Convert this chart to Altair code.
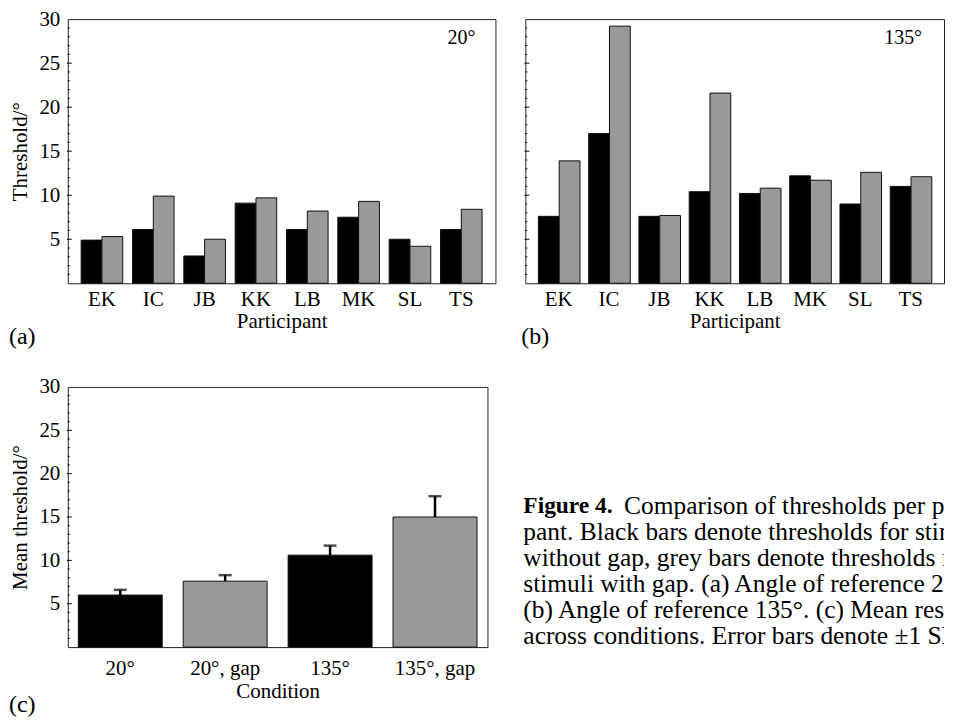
import altair as alt
import pandas as pd

FONT = "Liberation Serif"

participants = ["EK", "IC", "JB", "KK", "LB", "MK", "SL", "TS"]
a_no_gap = [4.9, 6.1, 3.1, 9.1, 6.1, 7.5, 5.0, 6.1]
a_gap = [5.3, 9.9, 5.0, 9.7, 8.2, 9.3, 4.2, 8.4]
b_no_gap = [7.6, 17.0, 7.6, 10.4, 10.2, 12.2, 9.0, 11.0]
b_gap = [13.9, 29.2, 7.7, 21.6, 10.8, 11.7, 12.6, 12.1]

conditions = ["20°", "20°, gap", "135°", "135°, gap"]
cond_stimulus = ["no gap", "gap", "no gap", "gap"]
mean_thr = [6.0, 7.6, 10.6, 15.0]
sd_thr = [0.6, 0.7, 1.1, 2.4]

y_labels = [5, 10, 15, 20, 25, 30]
minor_ticks = [v for v in range(1, 30) if v % 5 != 0]
major_ticks = [5, 10, 15, 20, 25]

caption_bold = "Figure 4."
caption_first = "Comparison of thresholds per partici-"
caption_lines = [
    "pant. Black bars denote thresholds for stimuli",
    "without gap, grey bars denote thresholds for",
    "stimuli with gap. (a) Angle of reference 20°.",
    "(b) Angle of reference 135°. (c) Mean results",
    "across conditions. Error bars denote ±1 SD.",
]

stim_scale = alt.Scale(domain=["no gap", "gap"], range=["#000000", "#999999"])


def tick_layers(field, yscale, yaxis):
    minor = alt.Chart(pd.DataFrame({field: minor_ticks})).mark_rule(
        color="black", strokeWidth=1
    ).encode(
        y=alt.Y(f"{field}:Q", scale=yscale, axis=yaxis),
        x=alt.value(0), x2=alt.value(2),
    )
    major = alt.Chart(pd.DataFrame({field: major_ticks})).mark_rule(
        color="black", strokeWidth=1
    ).encode(
        y=alt.Y(f"{field}:Q", scale=yscale, axis=yaxis),
        x=alt.value(-1), x2=alt.value(4),
    )
    return minor, major


def participant_panel(no_gap, gap, angle_label, letter, width, height, show_y, letter_x, angle_dx):
    df = pd.DataFrame({
        "Participant": participants * 2,
        "Stimulus": ["no gap"] * len(participants) + ["gap"] * len(participants),
        "Threshold": no_gap + gap,
    })
    yscale = alt.Scale(domain=[0, 30], nice=False, zero=True)
    if show_y:
        yaxis = alt.Axis(title="Threshold/°", values=y_labels, ticks=False, tickSize=0,
                         domain=False, grid=False, labelPadding=8, titlePadding=8,
                         labelFont=FONT, titleFont=FONT, titleFontWeight="normal")
    else:
        yaxis = None
    bars = alt.Chart(df).mark_bar(stroke="#111111", strokeWidth=1).encode(
        x=alt.X("Participant:N", sort=participants,
                scale=alt.Scale(paddingInner=0.19, paddingOuter=0.26),
                axis=alt.Axis(title="Participant", labelAngle=0, ticks=False, tickSize=0,
                              domain=False, labelPadding=5, titlePadding=1,
                              labelFont=FONT, titleFont=FONT, titleFontWeight="normal")),
        xOffset=alt.XOffset("Stimulus:N", sort=["no gap", "gap"],
                            scale=alt.Scale(paddingInner=0, paddingOuter=0)),
        y=alt.Y("Threshold:Q", scale=yscale, axis=yaxis),
        color=alt.Color("Stimulus:N", scale=stim_scale, legend=None),
    )
    minor, major = tick_layers("Threshold", yscale, yaxis)
    angle = alt.Chart(pd.DataFrame({"t": [angle_label]})).mark_text(
        font=FONT, fontSize=20, align="right", baseline="middle", color="black"
    ).encode(text="t:N", x=alt.value(width - angle_dx), y=alt.value(19))
    letter_txt = alt.Chart(pd.DataFrame({"t": [letter]})).mark_text(
        font=FONT, fontSize=24, align="left", baseline="middle", color="black"
    ).encode(text="t:N", x=alt.value(letter_x), y=alt.value(height + 54))
    return alt.layer(bars, minor, major, angle, letter_txt).properties(width=width, height=height)


panel_a = participant_panel(a_no_gap, a_gap, "20°", "(a)", 429, 265, True, -59, 20)
panel_b = participant_panel(b_no_gap, b_gap, "135°", "(b)", 420, 265, False, -4, 22)

# Panel (c)
dfc = pd.DataFrame({
    "Condition": conditions,
    "Stimulus": cond_stimulus,
    "Mean": mean_thr,
    "SD": sd_thr,
})
dfc["Top"] = dfc["Mean"] + dfc["SD"]
c_h = 261
c_w = 421
yscale_c = alt.Scale(domain=[0, 30], nice=False, zero=True)
yaxis_c = alt.Axis(title="Mean threshold/°", values=y_labels, ticks=False, tickSize=0,
                   domain=False, grid=False, labelPadding=8, titlePadding=8,
                   labelFont=FONT, titleFont=FONT, titleFontWeight="normal")
xenc_c = alt.X("Condition:N", sort=conditions,
               scale=alt.Scale(paddingInner=0.2, paddingOuter=0.1),
               axis=alt.Axis(title="Condition", labelAngle=0, ticks=False, tickSize=0,
                             domain=False, labelPadding=10, titlePadding=3,
                             labelFont=FONT, titleFont=FONT, titleFontWeight="normal"))
bars_c = alt.Chart(dfc).mark_bar(stroke="#111111", strokeWidth=1).encode(
    x=xenc_c,
    y=alt.Y("Mean:Q", scale=yscale_c, axis=yaxis_c),
    color=alt.Color("Stimulus:N", scale=stim_scale, legend=None),
)
err_c = alt.Chart(dfc).mark_rule(color="black", strokeWidth=2.5).encode(
    x=xenc_c,
    y=alt.Y("Mean:Q", scale=yscale_c, axis=yaxis_c),
    y2="Top:Q",
)
cap_c = alt.Chart(dfc).mark_tick(color="black", size=13, thickness=2.5).encode(
    x=xenc_c,
    y=alt.Y("Top:Q", scale=yscale_c, axis=yaxis_c),
)
minor_c, major_c = tick_layers("Mean", yscale_c, yaxis_c)
letter_c = alt.Chart(pd.DataFrame({"t": ["(c)"]})).mark_text(
    font=FONT, fontSize=24, align="left", baseline="middle", color="black"
).encode(text="t:N", x=alt.value(-59), y=alt.value(c_h + 58))
panel_c = alt.layer(bars_c, err_c, cap_c, minor_c, major_c, letter_c).properties(width=c_w, height=c_h)

# Caption
cap_h = 300
cap_w = 422
line_px = 26.2
first_px = 119.3
cap_size = 25.5
ys = alt.Scale(domain=[-first_px / line_px, (cap_h - first_px) / line_px], reverse=True)
cap_bold = alt.Chart(pd.DataFrame({"line": [0], "t": [caption_bold]})).mark_text(
    font=FONT, fontSize=23.5, fontWeight="bold", align="left", baseline="middle",
    color="black", clip=True
).encode(text="t:N", x=alt.value(0), y=alt.Y("line:Q", scale=ys, axis=None))
cap_first = alt.Chart(pd.DataFrame({"line": [0], "t": [caption_first]})).mark_text(
    font=FONT, fontSize=cap_size, align="left", baseline="middle", color="black", clip=True
).encode(text="t:N", x=alt.value(101), y=alt.Y("line:Q", scale=ys, axis=None))
cap_rest = alt.Chart(pd.DataFrame({"line": list(range(1, len(caption_lines) + 1)),
                                   "t": caption_lines})).mark_text(
    font=FONT, fontSize=cap_size, align="left", baseline="middle", color="black", clip=True
).encode(text="t:N", x=alt.value(0), y=alt.Y("line:Q", scale=ys, axis=None))
caption = alt.layer(cap_bold, cap_first, cap_rest).properties(
    width=cap_w, height=cap_h, view=alt.ViewBackground(stroke="transparent")
)

row1 = alt.hconcat(panel_a, panel_b, spacing=24)
row2 = alt.hconcat(panel_c, caption, spacing=34)
chart = alt.vconcat(row1, row2, spacing=25).properties(
    padding={"left": 0, "top": -2, "right": 0, "bottom": 3}
).configure_view(
    stroke="#222222", strokeWidth=1
).configure_axis(
    labelFont=FONT, titleFont=FONT, labelFontSize=21, titleFontSize=21,
    labelColor="black", titleColor="black", titleFontWeight="normal"
).configure_text(font=FONT)

chart.save("out.html", embed_options={"renderer": "svg", "actions": False})
